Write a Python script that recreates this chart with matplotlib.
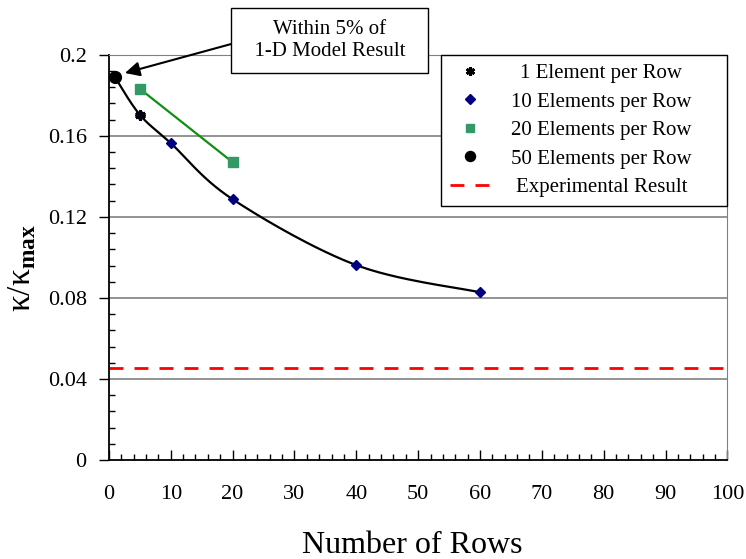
"""Normalised conductivity vs number of rows"""

import numpy as np
import matplotlib
matplotlib.use('Agg')
import matplotlib.pyplot as plt
from matplotlib.ticker import MultipleLocator

# data
ROWS_1 = [5]
KAPPA_1 = [0.1702]
ROWS_10 = [5, 10, 20, 40, 60]
KAPPA_10 = [0.1704, 0.1564, 0.1287, 0.0962, 0.0828]
ROWS_20 = [5, 20]
KAPPA_20 = [0.1832, 0.1470]
ROWS_50 = [1]
KAPPA_50 = [0.1888]
EXPERIMENTAL = 0.0455

X_TICKS = list(range(0, 101, 10))
Y_TICKS = [0, 0.04, 0.08, 0.12, 0.16, 0.2]
Y_LABELS = ['0', '0.04', '0.08', '0.12', '0.16', '0.2']


def smooth(xs, ys, n=30):
    """Excel-style smoothed line (Catmull-Rom Bezier) through the points"""
    p = np.column_stack([xs, ys]).astype(float)
    out = [p[0]]
    for i in range(len(p) - 1):
        p0 = p[i - 1] if i > 0 else p[i]
        p3 = p[i + 2] if i + 2 < len(p) else p[i + 1]
        c1 = p[i] + (p[i + 1] - p0) / 6
        c2 = p[i + 1] - (p3 - p[i]) / 6
        t = np.linspace(0, 1, n)[1:, None]
        seg = ((1 - t) ** 3 * p[i] + 3 * (1 - t) ** 2 * t * c1
               + 3 * (1 - t) * t ** 2 * c2 + t ** 3 * p[i + 1])
        out.extend(seg)
    out = np.array(out)
    return out[:, 0], out[:, 1]


plt.rcParams['font.family'] = 'Liberation Serif'
plt.rcParams['mathtext.fontset'] = 'custom'
plt.rcParams['mathtext.rm'] = 'Liberation Serif'
plt.rcParams['mathtext.bf'] = 'Liberation Serif:bold'

fig = plt.figure(figsize=(7.46, 5.59), dpi=100)
ax = fig.add_axes([0.146, 0.177, 0.829, 0.725])

# gridlines
for y in Y_TICKS[1:]:
    ax.axhline(y, color='#808080', lw=1.2, zorder=0)

# black curve through 50-element point and 10-element points
cx, cy = smooth(ROWS_50 + ROWS_10, KAPPA_50 + KAPPA_10)
ax.plot(cx, cy, color='black', lw=1.6, zorder=2)
ax.plot(ROWS_20, KAPPA_20, color='#109010', lw=1.6, zorder=2)

ax.plot(ROWS_10, KAPPA_10, 'D', color='#000080', ms=5.5, ls='none',
        label='10 Elements per Row', zorder=3)
ax.plot(ROWS_1, KAPPA_1, marker=(6, 2, 0), color='black', ms=7.5, mew=2,
        ls='none', label='1 Element per Row', zorder=4)
ax.plot(ROWS_20, KAPPA_20, 's', color='#339966', ms=7.5, ls='none',
        label='20 Elements per Row', zorder=3)
ax.plot(ROWS_50, KAPPA_50, 'o', color='black', ms=8.5, ls='none',
        label='50 Elements per Row', zorder=4)
ax.axhline(EXPERIMENTAL, color='#ff0000', lw=2, dashes=(5, 4),
           label='Experimental Result', zorder=2)

ax.set_xlim(0, 100)
ax.set_ylim(0, 0.2)
ax.set_xticks(X_TICKS)
ax.set_yticks(Y_TICKS)
ax.set_yticklabels(Y_LABELS)
ax.xaxis.set_minor_locator(MultipleLocator(2))
ax.yaxis.set_minor_locator(MultipleLocator(0.008))
ax.tick_params(axis='x', which='major', direction='in', length=7, width=1,
               labelsize=16, pad=18)
ax.tick_params(axis='x', which='minor', direction='in', length=4, width=1)
ax.tick_params(axis='y', which='major', direction='out', length=7, width=1,
               labelsize=16, pad=9)
ax.tick_params(axis='y', which='minor', direction='in', length=4, width=1)

ax.spines['top'].set_color('#808080')
ax.spines['right'].set_color('#808080')
ax.spines['left'].set_linewidth(1.3)
ax.spines['bottom'].set_linewidth(1.3)

ax.set_xlabel('Number of Rows', fontsize=23)
ax.xaxis.set_label_coords(0.49, -0.174)
ax.set_ylabel(r'$\mathrm{κ/κ}_{\mathbf{max}}$', fontsize=24)
ax.yaxis.set_label_coords(-0.115, 0.475)

handles, labels = ax.get_legend_handles_labels()
order = [1, 0, 2, 3, 4]
leg = ax.legend([handles[i] for i in order], [labels[i] for i in order],
                loc='upper right', bbox_to_anchor=(1.0, 1.0), fontsize=15,
                frameon=True, fancybox=False, edgecolor='black',
                framealpha=1, handlelength=1.9, handletextpad=2.32,
                labelspacing=0.43, borderpad=0.42, borderaxespad=0,
                markerscale=0.85)
leg.get_frame().set_linewidth(1)
leg.set_zorder(5)

ax.annotate('Within 5% of\n  1-D Model Result  ', xy=(2.6, 0.191),
            xytext=(35.7, 0.207), textcoords='data', fontsize=15,
            ha='center', va='center', annotation_clip=False,
            bbox=dict(boxstyle='square,pad=0.6', fc='white', ec='black', lw=1),
            arrowprops=dict(arrowstyle='-|>', color='black', lw=1.5,
                            mutation_scale=22, shrinkA=0, shrinkB=0,
                            relpos=(0, 0.5)))

# centre the legend labels like the reference and leave room on the right
fig.canvas.draw()
renderer = fig.canvas.get_renderer()
widths = [t.get_window_extent(renderer).width for t in leg.get_texts()]
for t, w in zip(leg.get_texts(), widths):
    t.set_x((max(widths) - w) / 2 - 27)

fig.savefig('out.png', dpi=100)
